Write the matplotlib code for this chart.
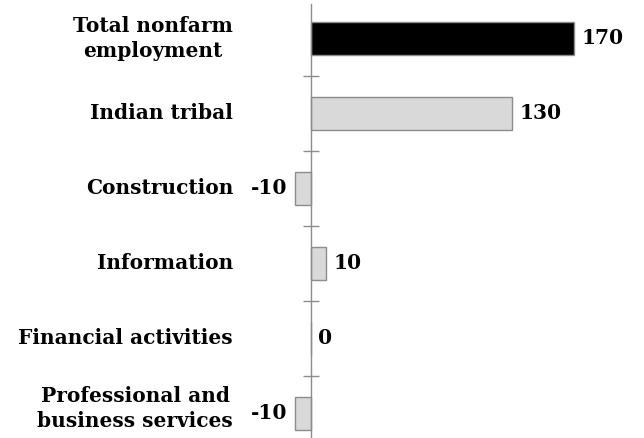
import numpy as np
import matplotlib
matplotlib.use('Agg')
import matplotlib.pyplot as plt

# --- data ---
categories = ["Total nonfarm\nemployment", "Indian tribal", "Construction",
              "Information", "Financial activities", "Professional and\nbusiness services"]
values = [170, 130, -10, 10, 0, -10]
bar_colors = ["#000000", "#d9d9d9", "#d9d9d9", "#d9d9d9", "#d9d9d9", "#d9d9d9"]

plt.rcParams['font.family'] = 'DejaVu Serif'
plt.rcParams['font.weight'] = 'bold'

fig = plt.figure(figsize=(6.44, 4.38), dpi=100)
# axes spans pixel x 280..640, y 4..438
ax = fig.add_axes([280 / 644, 0, 360 / 644, 434 / 438])

y = np.arange(len(categories))
ax.barh(y, values, height=0.44, color=bar_colors, edgecolor="#8c8c8c", linewidth=1.0, zorder=2)

# scale: zero at pixel 310.7, 1.549 px per unit
px_per_unit = 1.549
ax.set_xlim((280 - 310.7) / px_per_unit, (640 - 310.7) / px_per_unit)
ax.set_ylim(5.327, -0.46)

# value labels
for yi, v in zip(y, values):
    if v < 0:
        ax.text(v - 5, yi, f"{v}", ha='right', va='center', fontsize=14.5, fontweight='bold')
    else:
        ax.text(v + 5, yi, f"{v}", ha='left', va='center', fontsize=14.5, fontweight='bold')

# category labels, right edge at pixel ~233
label_x = (233 - 310.7) / px_per_unit
for i, (yi, cat) in enumerate(zip(y, categories)):
    # last label nudged up a little so it stays inside the image
    yy = yi - 0.07 if i == len(categories) - 1 else yi
    ax.text(label_x, yy, cat, ha='right', va='center', multialignment='center',
            fontsize=14.5, fontweight='bold', linespacing=1.3)

for s in ['top', 'right', 'bottom']:
    ax.spines[s].set_visible(False)
ax.spines['left'].set_position(('data', 0))
ax.spines['left'].set_color('#8c8c8c')
ax.spines['left'].set_linewidth(1.0)

ax.set_xticks([])
ax.set_yticks([])
ax.set_yticks(y[:-1] + 0.5, minor=True)
ax.tick_params(axis='y', which='minor', direction='inout', length=11.5, width=1.0, color='#8c8c8c')

fig.savefig("out.png", dpi=100)
